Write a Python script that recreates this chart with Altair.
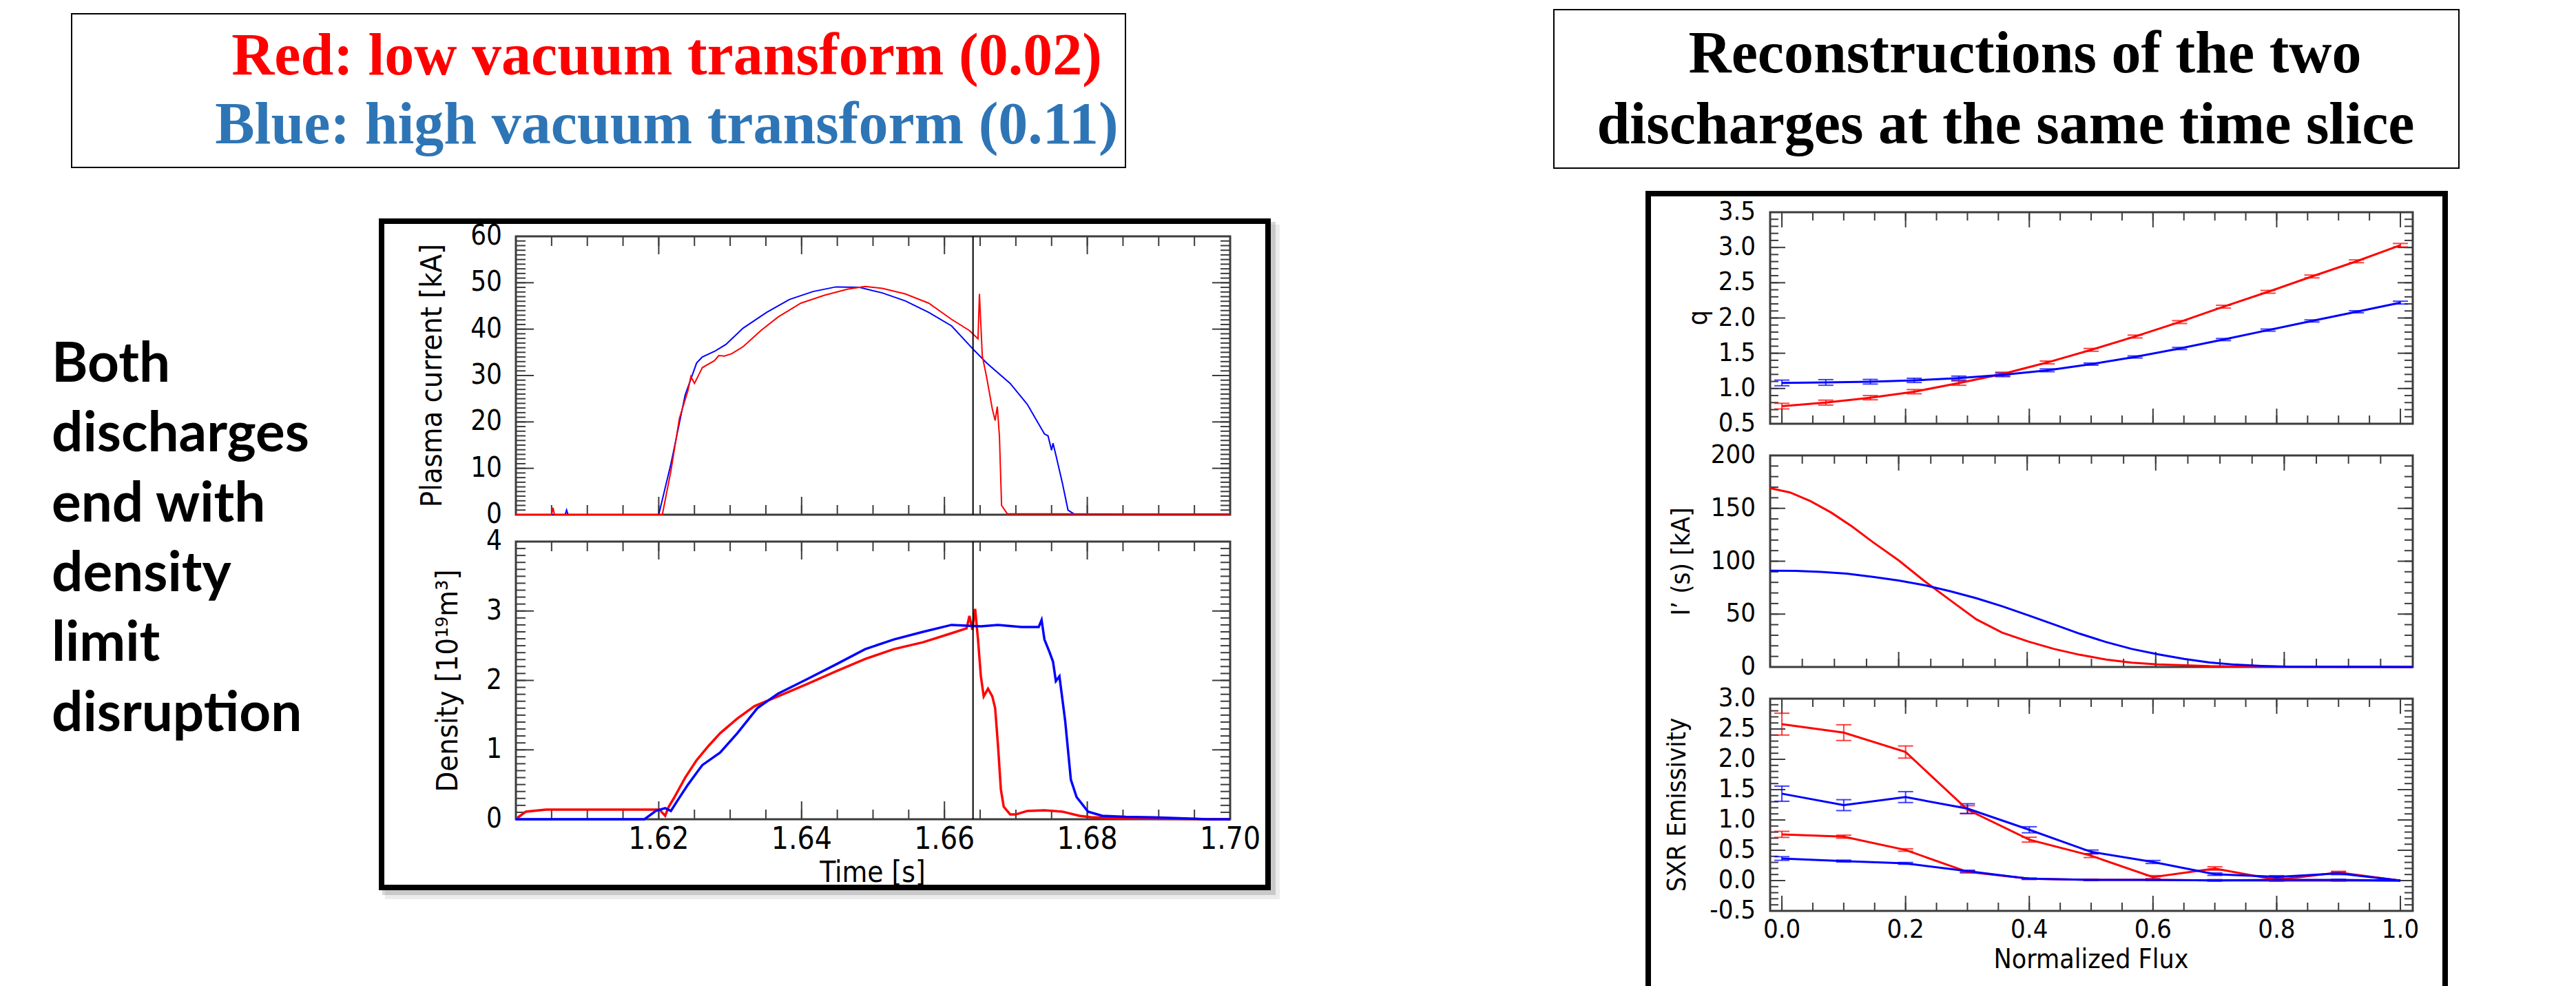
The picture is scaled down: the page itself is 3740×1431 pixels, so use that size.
import altair as alt
import pandas as pd

# ---------------- discharge time traces ----------------
# plasma current [kA]
ip_red_t = [1.6000, 1.6050, 1.6052, 1.6054, 1.6200, 1.6205, 1.6217, 1.6229, 1.6241, 1.6245,
            1.6250, 1.6261, 1.6278, 1.6284, 1.6292, 1.6302, 1.6318, 1.6343, 1.6367, 1.6399,
            1.6432, 1.6464, 1.6489, 1.6513, 1.6545, 1.6578, 1.6610, 1.6635, 1.6647, 1.6649,
            1.6653, 1.6659, 1.6667, 1.6671, 1.6674, 1.6677, 1.6680, 1.6688, 1.6700, 1.7000]
ip_red = [0.0, 0.0, 1.5, 0.0, 0.0, 0.0, 9.4, 20.8, 26.8, 29.8,
          28.3, 31.7, 33.2, 34.3, 34.2, 34.7, 36.2, 39.7, 42.6, 45.6,
          47.3, 48.6, 49.2, 48.8, 47.6, 45.6, 42.1, 39.7, 37.9, 47.6,
          34.2, 29.7, 22.8, 20.3, 23.3, 16.9, 2.0, 0.2, 0.2, 0.1]
ip_blue_t = [1.6000, 1.6069, 1.6071, 1.6073, 1.6200, 1.6217, 1.6237, 1.6253, 1.6261, 1.6278,
             1.6294, 1.6318, 1.6351, 1.6383, 1.6416, 1.6448, 1.6481, 1.6513, 1.6545, 1.6578,
             1.6610, 1.6640, 1.6659, 1.6692, 1.6716, 1.6740, 1.6745, 1.6750, 1.6752, 1.6756,
             1.6765, 1.6773, 1.6781, 1.7000]
ip_blue = [0.0, 0.0, 1.0, 0.0, 0.0, 10.9, 25.8, 32.7, 34.0, 35.2,
           36.7, 40.2, 43.6, 46.4, 48.1, 49.1, 49.0, 47.8, 46.1, 43.6,
           40.7, 35.7, 32.7, 28.3, 23.8, 17.4, 17.0, 13.9, 15.4, 12.9,
           6.9, 1.0, 0.2, 0.1]

# line-averaged density [1e19 m^-3]
ne_red_t = [1.6002, 1.6014, 1.6042, 1.6123, 1.6201, 1.6209, 1.6214, 1.6221, 1.6237, 1.6253,
            1.6270, 1.6286, 1.6310, 1.6334, 1.6367, 1.6408, 1.6448, 1.6489, 1.6529, 1.6570,
            1.6610, 1.6631, 1.6635, 1.6639, 1.6643, 1.6647, 1.6651, 1.6655, 1.6661, 1.6667,
            1.6671, 1.6675, 1.6679, 1.6683, 1.6692, 1.6700, 1.6716, 1.6740, 1.6765, 1.6789,
            1.6805, 1.6854, 1.7000]
ne_red = [0.02, 0.11, 0.14, 0.14, 0.14, 0.05, 0.18, 0.30, 0.60, 0.85,
          1.06, 1.24, 1.45, 1.63, 1.77, 1.95, 2.13, 2.31, 2.45, 2.55,
          2.68, 2.75, 2.93, 2.73, 3.03, 2.59, 2.06, 1.77, 1.88, 1.77,
          1.60, 1.06, 0.43, 0.18, 0.07, 0.07, 0.12, 0.13, 0.11, 0.05,
          0.03, 0.01, 0.0]
ne_blue_t = [1.6000, 1.6180, 1.6196, 1.6209, 1.6217, 1.6225, 1.6241, 1.6261, 1.6286, 1.6310,
             1.6338, 1.6367, 1.6408, 1.6448, 1.6489, 1.6529, 1.6570, 1.6610, 1.6651, 1.6675,
             1.6708, 1.6732, 1.6736, 1.6740, 1.6747, 1.6752, 1.6756, 1.6761, 1.6769, 1.6777,
             1.6785, 1.6801, 1.6821, 1.6854, 1.6894, 1.6951, 1.6968, 1.7000]
ne_blue = [0.0, 0.0, 0.12, 0.16, 0.12, 0.25, 0.50, 0.78, 0.96, 1.24,
           1.60, 1.81, 2.02, 2.23, 2.45, 2.59, 2.70, 2.80, 2.78, 2.80,
           2.77, 2.77, 2.87, 2.59, 2.41, 2.27, 1.99, 2.06, 1.42, 0.57,
           0.32, 0.11, 0.05, 0.035, 0.028, 0.007, 0.0, 0.0]

slice_time = [1.664]

# ---------------- reconstructed profiles ----------------
q_flux = [0.0, 0.071, 0.143, 0.214, 0.286, 0.357, 0.429, 0.5, 0.571, 0.643, 0.714, 0.786, 0.857, 0.929, 1.0]
q_red = [0.75, 0.80, 0.87, 0.955, 1.076, 1.206, 1.369, 1.548, 1.737, 1.942, 2.16, 2.371, 2.589, 2.804, 3.032]
q_red_err = [0.04, 0.035, 0.03, 0.03, 0.03, 0.025, 0.02, 0.02, 0.02, 0.02, 0.02, 0.02, 0.02, 0.02, 0.025]
q_blue = [1.079, 1.086, 1.096, 1.115, 1.148, 1.193, 1.258, 1.346, 1.447, 1.567, 1.694, 1.828, 1.958, 2.088, 2.218]
q_blue_err = [0.04, 0.04, 0.033, 0.03, 0.028, 0.025, 0.02, 0.015, 0.015, 0.015, 0.015, 0.015, 0.015, 0.015, 0.02]

cur_red_flux = [0.0, 0.031, 0.063, 0.095, 0.127, 0.16, 0.2, 0.24, 0.281, 0.321, 0.361, 0.402,
                0.442, 0.482, 0.523, 0.563, 0.603, 0.684, 0.765, 1.0]
cur_red = [169, 165, 156.7, 146, 133, 118, 100.8, 81.3, 62.8, 45, 32.5, 24,
           17, 11.5, 7, 4, 2.5, 0.8, 0.2, 0.0]
cur_blue_flux = [0.0, 0.039, 0.079, 0.119, 0.16, 0.2, 0.24, 0.281, 0.321, 0.361, 0.402, 0.442,
                 0.482, 0.523, 0.563, 0.603, 0.644, 0.684, 0.724, 0.765, 0.805, 1.0]
cur_blue = [91, 90.8, 89.9, 88.2, 85.2, 81.7, 77.4, 71.5, 65, 57.4, 48.8, 40.1,
            31.4, 23.5, 17, 12, 7.6, 4.3, 2.2, 1.0, 0.3, 0.0]

sxr_flux = [0.0, 0.1, 0.2, 0.3, 0.4, 0.5, 0.6, 0.7, 0.8, 0.9, 1.0]
sxr_red_a = [2.58, 2.44, 2.12, 1.17, 0.675, 0.41, 0.057, 0.20, 0.011, 0.133, 0.0]
sxr_red_a_err = [0.18, 0.13, 0.10, 0.065, 0.04, 0.03, 0.025, 0.028, 0.02, 0.02, 0.0]
sxr_red_b = [0.762, 0.724, 0.504, 0.144, 0.03, 0.011, 0.011, 0.004, 0.0, 0.0, 0.0]
sxr_red_b_err = [0.05, 0.025, 0.02, 0.02, 0.01, 0.01, 0.01, 0.01, 0.01, 0.01, 0.0]
sxr_blue_a = [1.433, 1.244, 1.377, 1.187, 0.838, 0.474, 0.307, 0.106, 0.061, 0.118, 0.0]
sxr_blue_a_err = [0.125, 0.09, 0.09, 0.08, 0.05, 0.03, 0.025, 0.02, 0.02, 0.02, 0.0]
sxr_blue_b = [0.364, 0.322, 0.284, 0.155, 0.03, 0.011, 0.011, 0.004, 0.011, 0.011, 0.0]
sxr_blue_b_err = [0.03, 0.015, 0.015, 0.015, 0.01, 0.01, 0.01, 0.01, 0.01, 0.01, 0.0]

# ---------------- tick values and labels ----------------
time_labels = ["1.62", "1.64", "1.66", "1.68", "1.70"]
time_label_vals = [1.62, 1.64, 1.66, 1.68, 1.70]
ip_labels = ["0", "10", "20", "30", "40", "50", "60"]
ip_label_vals = [0, 10, 20, 30, 40, 50, 60]
ne_labels = ["0", "1", "2", "3", "4"]
ne_label_vals = [0, 1, 2, 3, 4]
q_labels = ["0.5", "1.0", "1.5", "2.0", "2.5", "3.0", "3.5"]
q_label_vals = [0.5, 1.0, 1.5, 2.0, 2.5, 3.0, 3.5]
cur_labels = ["0", "50", "100", "150", "200"]
cur_label_vals = [0, 50, 100, 150, 200]
sxr_labels = ["-0.5", "0.0", "0.5", "1.0", "1.5", "2.0", "2.5", "3.0"]
sxr_label_vals = [-0.5, 0.0, 0.5, 1.0, 1.5, 2.0, 2.5, 3.0]
flux_labels = ["0.0", "0.2", "0.4", "0.6", "0.8", "1.0"]
flux_label_vals = [0.0, 0.2, 0.4, 0.6, 0.8, 1.0]


def seq(a, b, step):
    n = int(round((b - a) / step))
    return [round(a + k * step, 6) for k in range(n + 1)]


RED = "#FF0000"
BLUE = "#0000FF"
TITLE_BLUE = "#2E75B6"
GUIDE = "#3c3c3c"
GFONT = "DejaVu Sans Condensed"
SERIF = "Liberation Serif"

ONE = pd.DataFrame({"k": [0]})


def panel(left, right, top, bottom, xdom, ydom):
    return dict(left=left, right=right, top=top, bottom=bottom, xdom=xdom, ydom=ydom)


def xs(p):
    return alt.Scale(domain=p["xdom"], range=[p["left"], p["right"]], nice=False, zero=False)


def ys(p):
    return alt.Scale(domain=p["ydom"], range=[p["bottom"], p["top"]], nice=False, zero=False)


def rect(x, x2, y, y2, fill="white", fill_opacity=1.0, stroke="black", sw=2.0, opacity=1.0):
    return alt.Chart(ONE).mark_rect(
        fill=fill, fillOpacity=fill_opacity, stroke=stroke, strokeWidth=sw, opacity=opacity
    ).encode(x=alt.value(x), x2=alt.value(x2), y=alt.value(y), y2=alt.value(y2))


def text(s, x, y, size, font, color="black", weight="normal", angle=0,
         align="center", baseline="alphabetic"):
    return alt.Chart(ONE).mark_text(
        text=s, font=font, fontSize=size, fontWeight=weight, color=color,
        angle=angle, align=align, baseline=baseline
    ).encode(x=alt.value(x), y=alt.value(y))


def line(xv, yv, p, color, width):
    df = pd.DataFrame({"x": xv, "y": yv, "i": list(range(len(xv)))})
    return alt.Chart(df).mark_line(color=color, strokeWidth=width).encode(
        x=alt.X("x:Q", scale=xs(p), axis=None),
        y=alt.Y("y:Q", scale=ys(p), axis=None),
        order=alt.Order("i:Q"),
    )


def errorbars(xv, yv, ev, p, color, cap):
    rows = [(a, b - e, b + e) for a, b, e in zip(xv, yv, ev) if e > 0]
    df = pd.DataFrame(rows, columns=["x", "lo", "hi"])
    x = alt.X("x:Q", scale=xs(p), axis=None)
    stem = alt.Chart(df).mark_rule(color=color, strokeWidth=2, opacity=0.75).encode(
        x=x, y=alt.Y("lo:Q", scale=ys(p), axis=None), y2="hi:Q")
    lo = alt.Chart(df).mark_tick(color=color, orient="horizontal", size=cap, thickness=2, opacity=0.75).encode(
        x=x, y=alt.Y("lo:Q", scale=ys(p), axis=None))
    hi = alt.Chart(df).mark_tick(color=color, orient="horizontal", size=cap, thickness=2, opacity=0.75).encode(
        x=x, y=alt.Y("hi:Q", scale=ys(p), axis=None))
    return [stem, lo, hi]


def ticks(p, vals, side, length, width=2):
    df = pd.DataFrame({"v": vals})
    if side in ("left", "right"):
        x0 = p["left"] if side == "left" else p["right"]
        x1 = x0 + length if side == "left" else x0 - length
        enc = dict(y=alt.Y("v:Q", scale=ys(p), axis=None), x=alt.value(x0), x2=alt.value(x1))
    else:
        y0 = p["bottom"] if side == "bottom" else p["top"]
        y1 = y0 - length if side == "bottom" else y0 + length
        enc = dict(x=alt.X("v:Q", scale=xs(p), axis=None), y=alt.value(y0), y2=alt.value(y1))
    return alt.Chart(df).mark_rule(color=GUIDE, strokeWidth=width).encode(**enc)


def frame_and_ticks(p, xmaj, xmin, ymaj, ymin, lmaj, lmin):
    out = []
    for side in ("left", "right"):
        out.append(ticks(p, ymin, side, lmin))
        out.append(ticks(p, ymaj, side, lmaj))
    for side in ("top", "bottom"):
        out.append(ticks(p, xmin, side, lmin))
        out.append(ticks(p, xmaj, side, lmaj))
    out.append(rect(p["left"], p["right"], p["top"], p["bottom"], fill="white",
                    fill_opacity=0.0, stroke=GUIDE, sw=3))
    return out


def ylabels(p, vals, labels, size, pad):
    df = pd.DataFrame({"v": vals, "t": labels})
    return alt.Chart(df).mark_text(align="right", baseline="middle", font=GFONT,
                                   fontSize=size, color="black").encode(
        y=alt.Y("v:Q", scale=ys(p), axis=None), x=alt.value(p["left"] - pad), text="t:N")


def xlabels(p, vals, labels, size, ycenter):
    df = pd.DataFrame({"v": vals, "t": labels})
    return alt.Chart(df).mark_text(align="center", baseline="middle", font=GFONT,
                                   fontSize=size, color="black").encode(
        x=alt.X("v:Q", scale=xs(p), axis=None), y=alt.value(ycenter), text="t:N")


# panel geometry
P_IP = panel(749, 1786, 343, 747, [1.60, 1.70], [0, 60])
P_NE = panel(749, 1786, 786, 1189, [1.60, 1.70], [0, 4])
P_Q = panel(2570, 3503, 308, 615, [-0.019, 1.02], [0.5, 3.5])
P_CUR = panel(2570, 3503, 661, 968, [0.0, 1.0], [0, 200])
P_SXR = panel(2570, 3503, 1014, 1322, [-0.019, 1.02], [-0.5, 3.0])

layers = []

# ---- headline boxes ----
layers.append(rect(104, 1634, 20, 243, stroke="black", sw=2))
layers.append(text("Red: low vacuum transform (0.02)", 968, 108, 86, SERIF, RED, "bold"))
layers.append(text("Blue: high vacuum transform (0.11)", 968, 208, 86, SERIF, TITLE_BLUE, "bold"))
layers.append(rect(2256, 3570, 14, 244, stroke="black", sw=2))
layers.append(text("Reconstructions of the two", 2940, 105, 86, SERIF, "black", "bold"))
layers.append(text("discharges at the same time slice", 2912, 208, 86, SERIF, "black", "bold"))

# ---- side note ----
for k, s in enumerate(["Both", "discharges", "end with", "density", "limit", "disruption"]):
    layers.append(text(s, 75, 554 + 101.3 * k, 80, "Lato", "black", "bold", align="left"))

# ---- left figure frame with soft shadow ----
layers.append(rect(563, 1854, 330, 1301, fill="#9a9a9a", stroke="#9a9a9a", sw=8, opacity=0.18))
layers.append(rect(559, 1848, 326, 1295, fill="#7a7a7a", stroke="#7a7a7a", sw=8, opacity=0.3))
layers.append(rect(554, 1841, 321, 1288, fill="white", stroke="black", sw=8))

# ---- right figure frame ----
layers.append(rect(2393, 3550, 281, 1445, fill="white", stroke="black", sw=8))

# ---- time traces ----
t_major = seq(1.60, 1.70, 0.02)
t_minor = seq(1.60, 1.70, 0.005)
layers += frame_and_ticks(P_IP, t_major, t_minor, seq(0, 60, 10), seq(0, 60, 1), 26, 14)
layers += frame_and_ticks(P_NE, t_major, t_minor, seq(0, 4, 1), seq(0, 4, 0.1), 26, 14)

layers.append(line(ip_blue_t, ip_blue, P_IP, BLUE, 2))
layers.append(line(ip_red_t, ip_red, P_IP, RED, 2))
layers.append(line(ne_red_t, ne_red, P_NE, RED, 3.5))
layers.append(line(ne_blue_t, ne_blue, P_NE, BLUE, 3.5))

for p in (P_IP, P_NE):
    layers.append(alt.Chart(pd.DataFrame({"t": slice_time})).mark_rule(color="black", strokeWidth=2).encode(
        x=alt.X("t:Q", scale=xs(p), axis=None), y=alt.value(p["top"]), y2=alt.value(p["bottom"])))

layers.append(ylabels(P_IP, ip_label_vals, ip_labels, 40, 20))
layers.append(ylabels(P_NE, ne_label_vals, ne_labels, 40, 20))
layers.append(xlabels(P_NE, time_label_vals, time_labels, 44, 1219))
layers.append(text("Time [s]", 1267, 1267, 42, GFONT, baseline="middle"))
layers.append(text("Plasma current [kA]", 628, 545, 43, GFONT, angle=270, baseline="middle"))
layers.append(text("Density [10¹⁹m³]", 651, 988, 43, GFONT, angle=270, baseline="middle"))

# ---- reconstruction profiles ----
f_major = seq(0.0, 1.0, 0.2)
f_minor = seq(0.0, 1.0, 0.05)
layers += frame_and_ticks(P_Q, f_major, f_minor, seq(0.5, 3.5, 0.5), seq(0.5, 3.5, 0.1), 22, 12)
layers += frame_and_ticks(P_CUR, f_major, f_minor, seq(0, 200, 50), seq(0, 200, 10), 22, 12)
layers += frame_and_ticks(P_SXR, f_major, f_minor, seq(-0.5, 3.0, 0.5), seq(-0.5, 3.0, 0.1), 22, 12)

layers += errorbars(q_flux, q_red, q_red_err, P_Q, RED, 22)
layers += errorbars(q_flux, q_blue, q_blue_err, P_Q, BLUE, 22)
layers.append(line(q_flux, q_red, P_Q, RED, 3))
layers.append(line(q_flux, q_blue, P_Q, BLUE, 3))

layers.append(line(cur_red_flux, cur_red, P_CUR, RED, 3))
layers.append(line(cur_blue_flux, cur_blue, P_CUR, BLUE, 3))

layers += errorbars(sxr_flux, sxr_red_a, sxr_red_a_err, P_SXR, RED, 22)
layers += errorbars(sxr_flux, sxr_red_b, sxr_red_b_err, P_SXR, RED, 22)
layers += errorbars(sxr_flux, sxr_blue_a, sxr_blue_a_err, P_SXR, BLUE, 22)
layers += errorbars(sxr_flux, sxr_blue_b, sxr_blue_b_err, P_SXR, BLUE, 22)
layers.append(line(sxr_flux, sxr_red_a, P_SXR, RED, 3))
layers.append(line(sxr_flux, sxr_red_b, P_SXR, RED, 3))
layers.append(line(sxr_flux, sxr_blue_a, P_SXR, BLUE, 3))
layers.append(line(sxr_flux, sxr_blue_b, P_SXR, BLUE, 3))

layers.append(ylabels(P_Q, q_label_vals, q_labels, 38, 21))
layers.append(ylabels(P_CUR, cur_label_vals, cur_labels, 38, 21))
layers.append(ylabels(P_SXR, sxr_label_vals, sxr_labels, 38, 21))
layers.append(xlabels(P_SXR, flux_label_vals, flux_labels, 38, 1350))
layers.append(text("Normalized Flux", 3036, 1393, 39, GFONT, baseline="middle"))
layers.append(text("q", 2466, 461, 39, GFONT, angle=270, baseline="middle"))
layers.append(text("I’ (s)   [kA]", 2442, 815, 38, GFONT, angle=270, baseline="middle"))
layers.append(text("SXR Emissivity", 2436, 1168, 38, GFONT, angle=270, baseline="middle"))

chart = alt.layer(*layers).resolve_scale(
    x="independent", y="independent"
).properties(
    width=3740, height=1431, padding=0, background="white",
    autosize=alt.AutoSizeParams(type="none"),
).configure_view(strokeWidth=0)

chart.save("out.html", embed_options={"renderer": "svg", "actions": False})
